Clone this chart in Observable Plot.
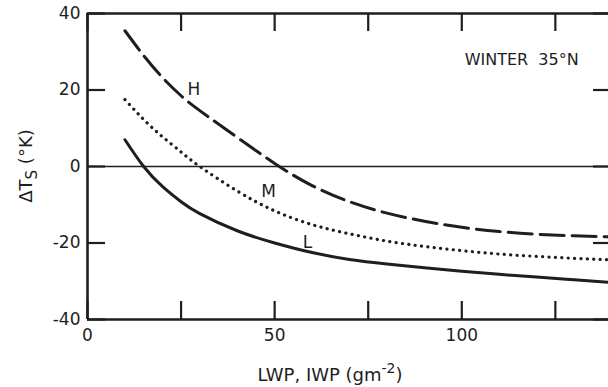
<!DOCTYPE html>
<html>
<head>
<meta charset="utf-8">
<script src="https://cdn.jsdelivr.net/npm/d3@7"></script>
<script src="https://cdn.jsdelivr.net/npm/@observablehq/plot@0.6"></script>
<style>
  html, body { margin: 0; padding: 0; background: #fff; overflow: hidden; }
  svg { display: block; max-width: none !important; }
</style>
</head>
<body>
<div id="chart"></div>
<script>
// ---- data ----
const lwp = [10, 15, 20, 25, 30, 40, 50, 60, 70, 80, 90, 100, 110, 120, 130, 140];
const seriesH = [35.5, 29, 23.3, 18.5, 14.6, 7.6, 0.8, -5, -9.2, -12.2, -14.3, -15.9, -17, -17.7, -18.1, -18.4];
const seriesM = [17.5, 12.3, 7.8, 3.8, 0, -6.4, -11.6, -15.2, -17.6, -19.5, -20.9, -22, -22.9, -23.5, -24, -24.4];
const seriesL = [7, 0, -5.2, -9.2, -12.3, -16.8, -20, -22.5, -24.3, -25.5, -26.5, -27.4, -28.2, -28.9, -29.6, -30.3];
const xTicks = [0, 25, 50, 75, 100, 125];
const xTickLabels = [0, 50, 100];
const yTicks = [-40, -20, 0, 20, 40];
const curveLabels = [
  {name: "H", x: 28.4, y: 20},
  {name: "M", x: 48.4, y: -6.5},
  {name: "L", x: 58.8, y: -20}
];
const title = {text: "WINTER  35°N", x: 116, y: 28};

const rows = (ys) => lwp.map((x, i) => ({x, y: ys[i]}));
const ink = "#1e1e1e";
const font = "'DejaVu Sans', sans-serif";
const W = 611, H = 387, mL = 87, mR = 0, mT = 13, mB = 68;
const frameW = W - mL - mR, frameH = H - mT - mB, tickLen = 18;
const fmt = d => String(d);

const plot = Plot.plot({
  width: W,
  height: H,
  marginLeft: mL,
  marginRight: mR,
  marginTop: mT,
  marginBottom: mB,
  style: {fontFamily: font, fontSize: "16px", color: ink, background: "#fff"},
  x: {domain: [0, 140], axis: null},
  y: {domain: [-40, 40], axis: null},
  marks: [
    // frame
    Plot.ruleY([-40, 40], {stroke: ink, strokeWidth: 2.6}),
    Plot.ruleX([0, 140], {stroke: ink, strokeWidth: 2.6}),
    Plot.ruleY([0], {stroke: ink, strokeWidth: 1.4}),
    // inward ticks
    Plot.tickX(xTicks, {x: d => d, insetTop: frameH - tickLen, stroke: ink, strokeWidth: 2.2}),
    Plot.tickX(xTicks, {x: d => d, insetBottom: frameH - tickLen, stroke: ink, strokeWidth: 2.2}),
    Plot.tickY(yTicks, {y: d => d, insetRight: frameW - tickLen, stroke: ink, strokeWidth: 2.2}),
    Plot.tickY(yTicks, {y: d => d, insetLeft: frameW - tickLen, stroke: ink, strokeWidth: 2.2}),
    // tick labels
    Plot.axisX({anchor: "bottom", ticks: xTickLabels, tickSize: 0, tickPadding: 9, tickFormat: fmt, label: null, fontSize: 17, color: ink}),
    Plot.axisY({anchor: "left", ticks: yTicks, tickSize: 0, tickPadding: 7, tickFormat: fmt, label: null, fontSize: 17, color: ink}),
    // curves
    Plot.line(rows(seriesH), {x: "x", y: "y", curve: "natural", stroke: ink, strokeWidth: 3, strokeDasharray: "24,8"}),
    Plot.line(rows(seriesM), {x: "x", y: "y", curve: "natural", stroke: ink, strokeWidth: 3.2, strokeDasharray: "0.1,6.3", strokeLinecap: "round"}),
    Plot.line(rows(seriesL), {x: "x", y: "y", curve: "natural", stroke: ink, strokeWidth: 3}),
    // labels
    Plot.text(curveLabels, {x: "x", y: "y", text: "name", fontSize: 17, fill: ink}),
    Plot.text([title], {x: "x", y: "y", text: "text", fontSize: 16, fill: ink})
  ]
});

document.getElementById("chart").appendChild(plot);

// axis titles with sub/superscripts
const svg = d3.select(plot);
const yl = svg.append("text")
  .attr("transform", "translate(32,166) rotate(-90)")
  .attr("text-anchor", "middle")
  .attr("font-family", font)
  .attr("font-size", 18)
  .attr("fill", ink);
yl.append("tspan").text("ΔT");
yl.append("tspan").attr("dy", 5).attr("font-size", 15).text("S");
yl.append("tspan").attr("dy", -5).text(" (°K)");

const xl = svg.append("text")
  .attr("x", 330).attr("y", 381)
  .attr("text-anchor", "middle")
  .attr("font-family", font)
  .attr("font-size", 18)
  .attr("fill", ink);
xl.append("tspan").text("LWP, IWP (gm");
xl.append("tspan").attr("dy", -8).attr("font-size", 14).text("-2");
xl.append("tspan").attr("dy", 8).text(")");
</script>
</body>
</html>
